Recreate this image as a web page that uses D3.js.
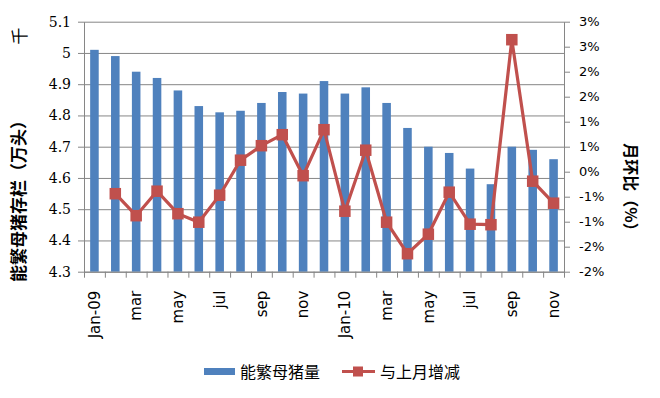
<!DOCTYPE html>
<html>
<head>
<meta charset="utf-8">
<script src="https://cdn.jsdelivr.net/npm/d3@7"></script>
<style>
  body { margin: 0; background: #fff; }
  svg text { font-family: "DejaVu Sans", sans-serif; fill: #000; }
  .grid line { stroke: #868686; stroke-width: 1; }
  .grid path { display: none; }
  .axis path, .axis line { stroke: #868686; }
</style>
</head>
<body>
<script>
// months Jan-09 .. Nov-10
var months = ["Jan-09", "feb", "mar", "apr", "may", "jun", "jul", "aug", "sep", "oct", "nov", "dec",
              "Jan-10", "feb", "mar", "apr", "may", "jun", "jul", "aug", "sep", "oct", "nov"];
// sow stock (left axis)
var sowStock = [5.01, 4.99, 4.94, 4.92, 4.88, 4.83, 4.81, 4.815, 4.84, 4.875, 4.87, 4.91,
                4.87, 4.89, 4.84, 4.76, 4.70, 4.68, 4.63, 4.58, 4.70, 4.69, 4.66];
// month-on-month change in % (right axis)
var momChange = [null, -0.44, -0.88, -0.39, -0.84, -1.01, -0.47, 0.23, 0.52, 0.74, -0.08, 0.84,
                 -0.79, 0.43, -1.01, -1.64, -1.25, -0.41, -1.05, -1.06, 2.64, -0.19, -0.63];
var leftTicks = [4.3, 4.4, 4.5, 4.6, 4.7, 4.8, 4.9, 5.0, 5.1];
var rightTicks = [-2, -1.5, -1, -0.5, 0, 0.5, 1, 1.5, 2, 2.5, 3];
var shownMonths = [0, 2, 4, 6, 8, 10, 12, 14, 16, 18, 20, 22];
var seriesNames = ["能繁母猪量", "与上月增减"];

var barColor = "#4f81bd",
    lineColor = "#c0504d";

var plot = { left: 84, right: 564, top: 21.7, bottom: 271.7 };

var svg = d3.select("body").append("svg")
    .attr("width", 660)
    .attr("height", 398);

// scales
var x = d3.scaleBand()
    .domain(d3.range(months.length))
    .range([plot.left, plot.right])
    .paddingInner(0.59)
    .paddingOuter(0.295);
var xEdges = d3.scaleLinear()
    .domain([0, months.length])
    .range([plot.left, plot.right]);
var y = d3.scaleLinear().domain([4.3, 5.1]).range([plot.bottom, plot.top]);
var y2 = d3.scaleLinear().domain([-2, 3]).range([plot.bottom, plot.top]);

// gridlines
svg.append("g")
    .attr("class", "grid")
    .attr("transform", "translate(" + plot.left + ",0)")
    .call(d3.axisLeft(y).tickValues(leftTicks).tickSize(-(plot.right - plot.left)).tickFormat(""));

// bars
svg.append("g").selectAll("rect")
    .data(sowStock)
    .enter().append("rect")
      .attr("x", function(d, i) { return x(i); })
      .attr("y", function(d) { return y(d); })
      .attr("width", x.bandwidth())
      .attr("height", function(d) { return y(4.3) - y(d); })
      .attr("fill", barColor);

// left axis
var leftAxis = svg.append("g")
    .attr("class", "axis")
    .attr("transform", "translate(" + plot.left + ",0)")
    .call(d3.axisLeft(y).tickValues(leftTicks).tickSize(6).tickSizeOuter(0).tickPadding(7)
      .tickFormat(function(d) { return String(+d.toFixed(1)); }));
leftAxis.selectAll("text")
    .style("font-family", "'DejaVu Serif', serif")
    .style("font-size", "14px");

// right axis
var rightAxis = svg.append("g")
    .attr("class", "axis")
    .attr("transform", "translate(" + plot.right + ",0)")
    .call(d3.axisRight(y2).tickValues(rightTicks).tickSize(6).tickSizeOuter(0).tickPadding(9)
      .tickFormat(function(d) { return (Math.sign(d) * Math.round(Math.abs(d))) + "%"; }));
rightAxis.selectAll("text").style("font-size", "13px");

// bottom axis: ticks at category edges
svg.append("g")
    .attr("class", "axis")
    .attr("transform", "translate(0," + plot.bottom + ")")
    .call(d3.axisBottom(xEdges).tickValues(d3.range(months.length + 1)).tickSize(6).tickSizeOuter(0).tickFormat(""));

// bottom labels
var labels = svg.append("g")
    .attr("transform", "translate(0," + plot.bottom + ")")
    .call(d3.axisBottom(x).tickValues(shownMonths).tickSize(0)
      .tickFormat(function(i) { return months[i]; }));
labels.select(".domain").remove();
labels.selectAll("text")
    .attr("transform", "rotate(-90)")
    .attr("text-anchor", "end")
    .attr("x", -19)
    .attr("y", 0)
    .attr("dy", "0.35em")
    .style("font-size", "15px");

// line
var line = d3.line()
    .defined(function(d) { return d != null; })
    .x(function(d, i) { return x(i) + x.bandwidth() / 2; })
    .y(function(d) { return y2(d); });

svg.append("path")
    .datum(momChange)
    .attr("d", line)
    .attr("fill", "none")
    .attr("stroke", lineColor)
    .attr("stroke-width", 3.2);

var ms = 11.5;
svg.append("g").selectAll("rect")
    .data(momChange.map(function(d, i) { return { v: d, i: i }; }).filter(function(d) { return d.v != null; }))
    .enter().append("rect")
      .attr("x", function(d) { return x(d.i) + x.bandwidth() / 2 - ms / 2; })
      .attr("y", function(d) { return y2(d.v) - ms / 2; })
      .attr("width", ms)
      .attr("height", ms)
      .attr("fill", lineColor);

// axis titles
svg.append("text")
    .attr("transform", "translate(25,197) rotate(-90)")
    .attr("text-anchor", "middle")
    .style("font-family", "'Noto Sans CJK SC', sans-serif")
    .style("font-size", "17px")
    .style("font-weight", "bold")
    .text("能繁母猪存栏（万头）");
svg.append("text")
    .attr("transform", "translate(26,36) rotate(-90)")
    .attr("text-anchor", "middle")
    .style("font-family", "'Noto Sans CJK SC', sans-serif")
    .style("font-size", "17px")
    .text("千");
svg.append("text")
    .attr("transform", "translate(625,191) rotate(90)")
    .attr("text-anchor", "middle")
    .style("font-family", "'Noto Sans CJK SC', sans-serif")
    .style("font-size", "16px")
    .style("font-weight", "bold")
    .text("月环比（%）");

// legend
var legend = svg.append("g").attr("class", "legend");
legend.append("rect")
    .attr("x", 204).attr("y", 368)
    .attr("width", 31).attr("height", 7)
    .attr("fill", barColor);
legend.append("text")
    .attr("x", 240).attr("y", 372).attr("dy", "0.35em")
    .style("font-family", "'Noto Sans CJK SC', sans-serif")
    .style("font-size", "16px")
    .text(seriesNames[0]);
legend.append("line")
    .attr("x1", 342).attr("x2", 375)
    .attr("y1", 371.5).attr("y2", 371.5)
    .attr("stroke", lineColor)
    .attr("stroke-width", 3);
legend.append("rect")
    .attr("x", 353).attr("y", 366.5)
    .attr("width", 10).attr("height", 10)
    .attr("fill", lineColor);
legend.append("text")
    .attr("x", 380).attr("y", 372).attr("dy", "0.35em")
    .style("font-family", "'Noto Sans CJK SC', sans-serif")
    .style("font-size", "16px")
    .text(seriesNames[1]);
</script>
</body>
</html>
